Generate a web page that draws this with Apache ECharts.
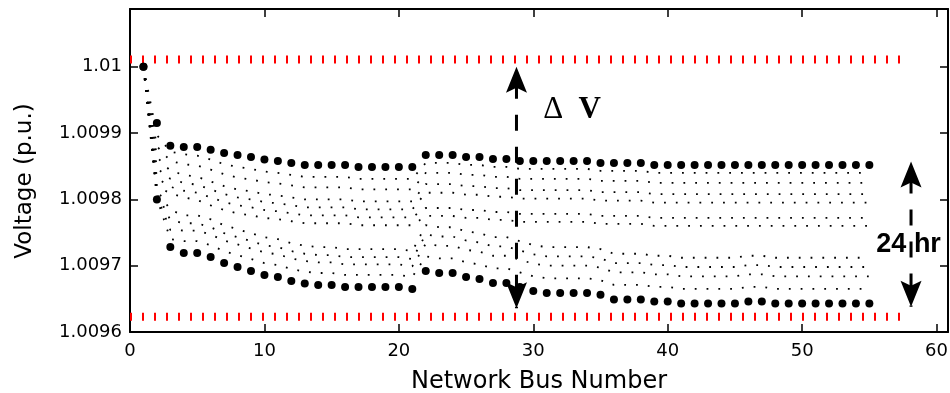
<!DOCTYPE html>
<html>
<head>
<meta charset="utf-8">
<script src="https://cdn.jsdelivr.net/npm/echarts@6/dist/echarts.min.js"></script>
<style>
  html, body { margin: 0; padding: 0; background: #fff; }
  #chart { width: 950px; height: 393px; }
</style>
</head>
<body>
<div id="chart"></div>
<script>
// Bus numbers along the feeder
const busNumbers = [
  1, 2, 3, 4, 5, 6, 7, 8, 9, 10, 11, 12, 13, 14, 15, 16, 17, 18, 19, 20,
  21, 22, 23, 24, 25, 26, 27, 28, 29, 30, 31, 32, 33, 34, 35, 36, 37, 38, 39, 40,
  41, 42, 43, 44, 45, 46, 47, 48, 49, 50, 51, 52, 53, 54, 55
];

// Highest voltage seen at each bus over the day (p.u.)
const maxVoltage = [
  1.01, 1.009915, 1.009881, 1.009879, 1.009879, 1.009875, 1.009870, 1.009867, 1.009864, 1.009860,
  1.009858, 1.009855, 1.009852, 1.009852, 1.009852, 1.009852, 1.009849, 1.009849, 1.009849, 1.009849,
  1.009849, 1.009867, 1.009867, 1.009867, 1.009864, 1.009864, 1.009861, 1.009861, 1.009858, 1.009858,
  1.009858, 1.009858, 1.009858, 1.009858, 1.009855, 1.009855, 1.009855, 1.009855, 1.009852, 1.009852,
  1.009852, 1.009852, 1.009852, 1.009852, 1.009852, 1.009852, 1.009852, 1.009852, 1.009852, 1.009852,
  1.009852, 1.009852, 1.009852, 1.009852, 1.009852
];

// Lowest voltage seen at each bus over the day (p.u.)
const minVoltage = [
  1.01, 1.0098, 1.009728, 1.009719, 1.009719, 1.009713, 1.009704, 1.009698, 1.009692, 1.009686,
  1.009683, 1.009677, 1.009673, 1.009671, 1.009671, 1.009668, 1.009668, 1.009668, 1.009668, 1.009668,
  1.009665, 1.009692, 1.009689, 1.009689, 1.009683, 1.009680, 1.009674, 1.009674, 1.009668, 1.009662,
  1.009659, 1.009659, 1.009659, 1.009659, 1.009656, 1.009649, 1.009649, 1.009649, 1.009646, 1.009646,
  1.009643, 1.009643, 1.009643, 1.009643, 1.009643, 1.009646, 1.009646, 1.009643, 1.009643, 1.009643,
  1.009643, 1.009643, 1.009643, 1.009643, 1.009643
];

// Intermediate hourly voltage profiles (p.u.)
const profile1 = [
  1.01, 1.009897, 1.009872, 1.009868, 1.009866, 1.009860, 1.009853, 1.009849, 1.009846, 1.009842,
  1.009840, 1.009837, 1.009834, 1.009834, 1.009834, 1.009834, 1.009831, 1.009831, 1.009831, 1.009831,
  1.009831, 1.009855, 1.009855, 1.009855, 1.009852, 1.009852, 1.009849, 1.009849, 1.009846, 1.009846,
  1.009846, 1.009846, 1.009846, 1.009846, 1.009843, 1.009843, 1.009843, 1.009843, 1.009840, 1.009840,
  1.009840, 1.009840, 1.009840, 1.009840, 1.009840, 1.009840, 1.009840, 1.009840, 1.009840, 1.009840,
  1.009840, 1.009840, 1.009840, 1.009840, 1.009840
];
const profile2 = [
  1.01, 1.009880, 1.009858, 1.009853, 1.009851, 1.009845, 1.009838, 1.009833, 1.009830, 1.009826,
  1.009824, 1.009821, 1.009818, 1.009818, 1.009818, 1.009818, 1.009815, 1.009815, 1.009815, 1.009815,
  1.009815, 1.009840, 1.009840, 1.009840, 1.009837, 1.009837, 1.009834, 1.009834, 1.009831, 1.009831,
  1.009831, 1.009831, 1.009831, 1.009831, 1.009828, 1.009828, 1.009828, 1.009828, 1.009825, 1.009825,
  1.009825, 1.009825, 1.009825, 1.009825, 1.009825, 1.009825, 1.009825, 1.009825, 1.009825, 1.009825,
  1.009825, 1.009825, 1.009825, 1.009825, 1.009825
];
const profile3 = [
  1.01, 1.009864, 1.009843, 1.009837, 1.009834, 1.009827, 1.009820, 1.009815, 1.009812, 1.009808,
  1.009806, 1.009803, 1.009800, 1.009800, 1.009800, 1.009800, 1.009797, 1.009797, 1.009797, 1.009797,
  1.009797, 1.009823, 1.009823, 1.009823, 1.009820, 1.009820, 1.009817, 1.009817, 1.009814, 1.009814,
  1.009814, 1.009814, 1.009814, 1.009814, 1.009811, 1.009811, 1.009811, 1.009811, 1.009808, 1.009808,
  1.009808, 1.009808, 1.009808, 1.009808, 1.009808, 1.009808, 1.009808, 1.009808, 1.009808, 1.009808,
  1.009808, 1.009808, 1.009808, 1.009808, 1.009808
];
const profile4 = [
  1.01, 1.009847, 1.009831, 1.009825, 1.009822, 1.009815, 1.009808, 1.009803, 1.009800, 1.009796,
  1.009794, 1.009791, 1.009788, 1.009788, 1.009788, 1.009788, 1.009785, 1.009785, 1.009785, 1.009785,
  1.009785, 1.009810, 1.009810, 1.009810, 1.009807, 1.009807, 1.009804, 1.009804, 1.009801, 1.009801,
  1.009801, 1.009801, 1.009801, 1.009801, 1.009798, 1.009798, 1.009798, 1.009798, 1.009795, 1.009795,
  1.009795, 1.009795, 1.009795, 1.009795, 1.009795, 1.009795, 1.009795, 1.009795, 1.009795, 1.009795,
  1.009795, 1.009795, 1.009795, 1.009795, 1.009795
];
const profile5 = [
  1.01, 1.009832, 1.009819, 1.009813, 1.009810, 1.009803, 1.009796, 1.009791, 1.009788, 1.009784,
  1.009782, 1.009779, 1.009776, 1.009776, 1.009776, 1.009776, 1.009773, 1.009773, 1.009773, 1.009773,
  1.009773, 1.009787, 1.009787, 1.009787, 1.009784, 1.009784, 1.009781, 1.009781, 1.009778, 1.009778,
  1.009778, 1.009778, 1.009778, 1.009778, 1.009775, 1.009775, 1.009775, 1.009775, 1.009772, 1.009772,
  1.009772, 1.009772, 1.009772, 1.009772, 1.009772, 1.009772, 1.009772, 1.009772, 1.009772, 1.009772,
  1.009772, 1.009772, 1.009772, 1.009772, 1.009772
];
const profile6 = [
  1.01, 1.009820, 1.009809, 1.009803, 1.009799, 1.009791, 1.009784, 1.009779, 1.009776, 1.009772,
  1.009770, 1.009767, 1.009764, 1.009764, 1.009764, 1.009764, 1.009761, 1.009761, 1.009761, 1.009761,
  1.009761, 1.009775, 1.009775, 1.009775, 1.009772, 1.009772, 1.009769, 1.009769, 1.009766, 1.009766,
  1.009766, 1.009766, 1.009766, 1.009766, 1.009763, 1.009763, 1.009763, 1.009763, 1.009760, 1.009760,
  1.009760, 1.009760, 1.009760, 1.009760, 1.009760, 1.009760, 1.009760, 1.009760, 1.009760, 1.009760,
  1.009760, 1.009760, 1.009760, 1.009760, 1.009760
];
const profile7 = [
  1.01, 1.009814, 1.009784, 1.009776, 1.009776, 1.009770, 1.009761, 1.009755, 1.009749, 1.009743,
  1.009740, 1.009734, 1.009730, 1.009728, 1.009728, 1.009725, 1.009725, 1.009725, 1.009725, 1.009725,
  1.009722, 1.009761, 1.009758, 1.009758, 1.009752, 1.009749, 1.009743, 1.009743, 1.009737, 1.009731,
  1.009728, 1.009728, 1.009728, 1.009728, 1.009725, 1.009718, 1.009718, 1.009718, 1.009715, 1.009715,
  1.009712, 1.009712, 1.009712, 1.009712, 1.009712, 1.009715, 1.009715, 1.009712, 1.009712, 1.009712,
  1.009712, 1.009712, 1.009712, 1.009712, 1.009712
];
const profile8 = [
  1.01, 1.009809, 1.009769, 1.009764, 1.009764, 1.009758, 1.009749, 1.009743, 1.009737, 1.009731,
  1.009728, 1.009722, 1.009718, 1.009716, 1.009716, 1.009713, 1.009713, 1.009713, 1.009713, 1.009713,
  1.009710, 1.009747, 1.009744, 1.009744, 1.009738, 1.009735, 1.009729, 1.009729, 1.009723, 1.009717,
  1.009714, 1.009714, 1.009714, 1.009714, 1.009711, 1.009704, 1.009704, 1.009704, 1.009701, 1.009701,
  1.009698, 1.009698, 1.009698, 1.009698, 1.009698, 1.009701, 1.009701, 1.009698, 1.009698, 1.009698,
  1.009698, 1.009698, 1.009698, 1.009698, 1.009698
];
const profile9 = [
  1.01, 1.009805, 1.009754, 1.009753, 1.009753, 1.009747, 1.009738, 1.009732, 1.009726, 1.009720,
  1.009717, 1.009711, 1.009707, 1.009705, 1.009705, 1.009702, 1.009702, 1.009702, 1.009702, 1.009702,
  1.009699, 1.009733, 1.009730, 1.009730, 1.009724, 1.009721, 1.009715, 1.009715, 1.009709, 1.009703,
  1.009700, 1.009700, 1.009700, 1.009700, 1.009697, 1.009690, 1.009690, 1.009690, 1.009687, 1.009687,
  1.009684, 1.009684, 1.009684, 1.009684, 1.009684, 1.009687, 1.009687, 1.009684, 1.009684, 1.009684,
  1.009684, 1.009684, 1.009684, 1.009684, 1.009684
];
const profile10 = [
  1.01, 1.009802, 1.009740, 1.009737, 1.009737, 1.009731, 1.009722, 1.009716, 1.009710, 1.009704,
  1.009701, 1.009695, 1.009691, 1.009689, 1.009689, 1.009686, 1.009686, 1.009686, 1.009686, 1.009686,
  1.009683, 1.009714, 1.009711, 1.009711, 1.009705, 1.009702, 1.009696, 1.009696, 1.009690, 1.009684,
  1.009681, 1.009681, 1.009681, 1.009681, 1.009678, 1.009671, 1.009671, 1.009671, 1.009668, 1.009668,
  1.009665, 1.009665, 1.009665, 1.009665, 1.009665, 1.009668, 1.009668, 1.009665, 1.009665, 1.009665,
  1.009665, 1.009665, 1.009665, 1.009665, 1.009665
];
const hourlyProfiles = [profile1, profile2, profile3, profile4, profile5,
                        profile6, profile7, profile8, profile9, profile10];

// Voltage limits (p.u.) and the bus range they are drawn across
const voltageLimits = [1.010011, 1.009623];
const limitSpan = [0, 57.35];

// Axis ranges and tick spacing
const xRange = [0, 60.85];
const xTickStep = 10;
const yRange = [1.0096, 1.0100871];
const yTickStep = 0.0001;

// Double arrows: [bus, upper voltage, lower voltage]
const arrowSpans = [
  [28.75, 1.01, 1.009636],
  [58.1, 1.009857, 1.009638]
];

// Annotation texts and where they sit: [bus, voltage]
const noteTexts = ['\u0394', 'V', '24 hr'];
const notePositions = [
  [31.49, 1.009935],
  [34.2, 1.009935],
  [57.92, 1.009732]
];

const pair = (xs, ys) => xs.map((x, i) => [x, ys[i]]);

const chart = echarts.init(document.getElementById('chart'), null, { renderer: 'canvas' });

const frameLine = { show: true, onZero: false, lineStyle: { color: '#000', width: 2 } };
const innerTicks = { show: true, inside: true, length: 8, lineStyle: { color: '#000', width: 1.5 } };
const tickFont = { color: '#000', fontSize: 18, fontFamily: 'DejaVu Sans' };

const noteStyles = [
  { fontSize: 31, fontFamily: 'Liberation Serif', fontWeight: 'normal' },
  { fontSize: 31, fontFamily: 'Liberation Serif', fontWeight: 'bold' },
  { fontSize: 27, fontFamily: 'Liberation Sans', fontWeight: 'bold' }
];

const series = [];

voltageLimits.forEach((v) => {
  series.push({
    type: 'line',
    data: limitSpan.map((x) => [x, v]),
    showSymbol: false,
    silent: true,
    z: 2,
    lineStyle: { color: '#ff0000', width: 8, type: [2, 10], cap: 'butt', opacity: 1 }
  });
});

hourlyProfiles.forEach((p) => {
  series.push({
    type: 'line',
    data: pair(busNumbers, p),
    showSymbol: false,
    silent: true,
    z: 3,
    lineStyle: { color: '#000', width: 1.8, type: [1.8, 10], opacity: 1 }
  });
});

[maxVoltage, minVoltage].forEach((v) => {
  series.push({
    type: 'scatter',
    data: pair(busNumbers, v),
    symbol: 'circle',
    symbolSize: 8,
    silent: true,
    z: 4,
    itemStyle: { color: '#000', opacity: 1 }
  });
});

series.push({
  type: 'custom',
  data: arrowSpans,
  encode: { x: 0, y: [1, 2] },
  silent: true,
  z: 6,
  clip: false,
  renderItem: (params, api) => {
    const top = api.coord([api.value(0), api.value(1)]);
    const bot = api.coord([api.value(0), api.value(2)]);
    const x = top[0];
    const len = 26, half = 10.5, notch = 21;
    return {
      type: 'group',
      children: [
        {
          type: 'line',
          shape: { x1: x, y1: top[1], x2: x, y2: bot[1] },
          style: { stroke: '#000', lineWidth: 3, lineDash: [16, 16], lineDashOffset: 16 }
        },
        {
          type: 'polygon',
          shape: { points: [[x, top[1]], [x + half, top[1] + len], [x, top[1] + notch], [x - half, top[1] + len]] },
          style: { fill: '#000' }
        },
        {
          type: 'polygon',
          shape: { points: [[x, bot[1]], [x + half, bot[1] - len], [x, bot[1] - notch], [x - half, bot[1] - len]] },
          style: { fill: '#000' }
        }
      ]
    };
  }
});

series.push({
  type: 'custom',
  data: notePositions,
  encode: { x: 0, y: 1 },
  silent: true,
  z: 7,
  clip: false,
  renderItem: (params, api) => {
    const p = api.coord([api.value(0), api.value(1)]);
    const s = noteStyles[params.dataIndex];
    return {
      type: 'text',
      x: p[0],
      y: p[1],
      style: {
        text: noteTexts[params.dataIndex],
        fill: '#000',
        fontSize: s.fontSize,
        fontFamily: s.fontFamily,
        fontWeight: s.fontWeight,
        align: 'center',
        verticalAlign: 'middle'
      }
    };
  }
});

chart.setOption({
  animation: false,
  backgroundColor: '#fff',
  grid: { left: 130, right: 2, top: 9, bottom: 61, containLabel: false, outerBoundsMode: 'none' },
  xAxis: [
    {
      type: 'value', position: 'bottom',
      min: xRange[0], max: xRange[1], interval: xTickStep,
      axisLine: frameLine, axisTick: innerTicks,
      axisLabel: Object.assign({ margin: 10, showMaxLabel: false, alignMinLabel: 'center' }, tickFont),
      splitLine: { show: false },
      name: 'Network Bus Number', nameLocation: 'middle', nameGap: 38,
      nameTextStyle: { color: '#000', fontSize: 24, fontFamily: 'DejaVu Sans' }
    },
    {
      type: 'value', position: 'top',
      min: xRange[0], max: xRange[1], interval: xTickStep,
      axisLine: frameLine, axisTick: innerTicks,
      axisLabel: { show: false }, splitLine: { show: false }
    }
  ],
  yAxis: [
    {
      type: 'value', position: 'left',
      min: yRange[0], max: yRange[1], interval: yTickStep,
      axisLine: frameLine, axisTick: innerTicks,
      axisLabel: Object.assign({
        margin: 8, showMaxLabel: false, verticalAlignMinLabel: 'middle'
      }, tickFont),
      splitLine: { show: false }
    },
    {
      type: 'value', position: 'right',
      min: yRange[0], max: yRange[1], interval: yTickStep,
      axisLine: frameLine, axisTick: innerTicks,
      axisLabel: { show: false }, splitLine: { show: false }
    }
  ],
  graphic: [
    {
      type: 'text', x: 25, y: 181, rotation: Math.PI / 2,
      style: {
        text: 'Voltage (p.u.)', fill: '#000', fontSize: 23, fontFamily: 'DejaVu Sans',
        align: 'center', verticalAlign: 'middle'
      }
    }
  ],
  series: series
});
</script>
</body>
</html>
